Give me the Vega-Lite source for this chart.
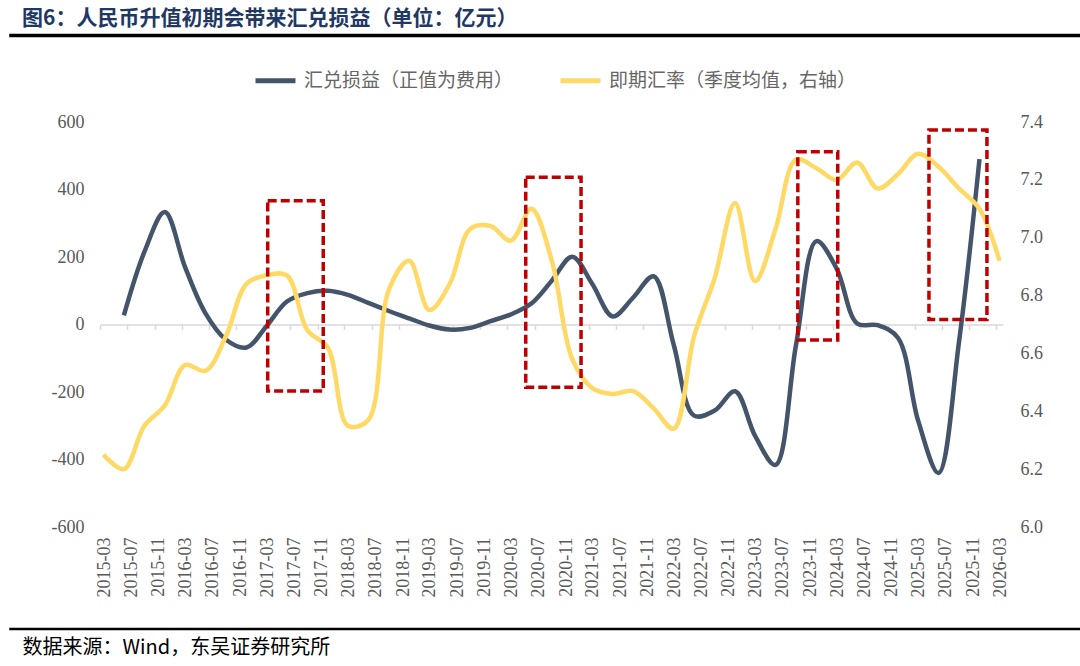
{
  "$schema": "https://vega.github.io/schema/vega-lite/v6.json",
  "width": 903,
  "height": 405,
  "autosize": {"type": "none"},
  "padding": {"left": 100, "top": 122, "right": 77, "bottom": 139},
  "background": "white",
  "config": {"view": {"stroke": null}, "axis": {"grid": false}},
  "title": {
    "text": "图6：人民币升值初期会带来汇兑损益（单位：亿元）",
    "anchor": "start",
    "frame": "group",
    "dx": -78,
    "font": "Noto Sans CJK SC",
    "fontSize": 21,
    "fontWeight": "bold",
    "color": "#1f3864",
    "offset": 5
  },
  "datasets": {
    "fx_pl": [
      {"quarter": "2015-06", "value": 27},
      {"quarter": "2015-09", "value": 215},
      {"quarter": "2015-12", "value": 333},
      {"quarter": "2016-03", "value": 170},
      {"quarter": "2016-06", "value": 33},
      {"quarter": "2016-09", "value": -45},
      {"quarter": "2016-12", "value": -68},
      {"quarter": "2017-03", "value": -5},
      {"quarter": "2017-06", "value": 68},
      {"quarter": "2017-09", "value": 93},
      {"quarter": "2017-12", "value": 100},
      {"quarter": "2018-03", "value": 88},
      {"quarter": "2018-06", "value": 64},
      {"quarter": "2018-09", "value": 40},
      {"quarter": "2018-12", "value": 18},
      {"quarter": "2019-03", "value": -3},
      {"quarter": "2019-06", "value": -15},
      {"quarter": "2019-09", "value": -10},
      {"quarter": "2019-12", "value": 10},
      {"quarter": "2020-03", "value": 30},
      {"quarter": "2020-06", "value": 62},
      {"quarter": "2020-09", "value": 130},
      {"quarter": "2020-12", "value": 201},
      {"quarter": "2021-03", "value": 120},
      {"quarter": "2021-06", "value": 24},
      {"quarter": "2021-09", "value": 80},
      {"quarter": "2021-12", "value": 143},
      {"quarter": "2022-03", "value": -60},
      {"quarter": "2022-06", "value": -270},
      {"quarter": "2022-09", "value": -255},
      {"quarter": "2022-12", "value": -198},
      {"quarter": "2023-03", "value": -330},
      {"quarter": "2023-06", "value": -416},
      {"quarter": "2023-09", "value": -60},
      {"quarter": "2023-12", "value": 247},
      {"quarter": "2024-03", "value": 165},
      {"quarter": "2024-06", "value": 3},
      {"quarter": "2024-09", "value": -2},
      {"quarter": "2024-12", "value": -40},
      {"quarter": "2025-03", "value": -285},
      {"quarter": "2025-06", "value": -440},
      {"quarter": "2025-09", "value": -50},
      {"quarter": "2025-12", "value": 490}
    ],
    "spot": [
      {"quarter": "2015-03", "rate": 6.25},
      {"quarter": "2015-06", "rate": 6.2},
      {"quarter": "2015-09", "rate": 6.35},
      {"quarter": "2015-12", "rate": 6.42},
      {"quarter": "2016-03", "rate": 6.56},
      {"quarter": "2016-06", "rate": 6.54},
      {"quarter": "2016-09", "rate": 6.66},
      {"quarter": "2016-12", "rate": 6.84},
      {"quarter": "2017-03", "rate": 6.87},
      {"quarter": "2017-06", "rate": 6.87},
      {"quarter": "2017-09", "rate": 6.68},
      {"quarter": "2017-12", "rate": 6.62},
      {"quarter": "2018-03", "rate": 6.35},
      {"quarter": "2018-06", "rate": 6.37},
      {"quarter": "2018-09", "rate": 6.82},
      {"quarter": "2018-12", "rate": 6.92},
      {"quarter": "2019-03", "rate": 6.75},
      {"quarter": "2019-06", "rate": 6.84},
      {"quarter": "2019-09", "rate": 7.03},
      {"quarter": "2019-12", "rate": 7.04},
      {"quarter": "2020-03", "rate": 6.99},
      {"quarter": "2020-06", "rate": 7.1},
      {"quarter": "2020-09", "rate": 6.92},
      {"quarter": "2020-12", "rate": 6.58},
      {"quarter": "2021-03", "rate": 6.48},
      {"quarter": "2021-06", "rate": 6.46},
      {"quarter": "2021-09", "rate": 6.47},
      {"quarter": "2021-12", "rate": 6.41},
      {"quarter": "2022-03", "rate": 6.34},
      {"quarter": "2022-06", "rate": 6.66},
      {"quarter": "2022-09", "rate": 6.86},
      {"quarter": "2022-12", "rate": 7.12},
      {"quarter": "2023-03", "rate": 6.85},
      {"quarter": "2023-06", "rate": 7.03},
      {"quarter": "2023-09", "rate": 7.27},
      {"quarter": "2023-12", "rate": 7.24},
      {"quarter": "2024-03", "rate": 7.2},
      {"quarter": "2024-06", "rate": 7.26},
      {"quarter": "2024-09", "rate": 7.17},
      {"quarter": "2024-12", "rate": 7.22},
      {"quarter": "2025-03", "rate": 7.29},
      {"quarter": "2025-06", "rate": 7.245},
      {"quarter": "2025-09", "rate": 7.17},
      {"quarter": "2025-12", "rate": 7.1},
      {"quarter": "2026-03", "rate": 6.92}
    ],
    "boxes": [
      {"start": "2017-03-22", "end": "2017-11-26", "low": -197, "high": 367},
      {"start": "2020-05-22", "end": "2021-01-25", "low": -186, "high": 436},
      {"start": "2023-09-24", "end": "2024-03-21", "low": -46, "high": 512},
      {"start": "2025-05-04", "end": "2026-01-19", "low": 15, "high": 576}
    ]
  },
  "layer": [
    {
      "data": {"name": "fx_pl"},
      "mark": {"type": "line", "interpolate": "catmull-rom", "strokeWidth": 4.5, "clip": false},
      "encoding": {
        "x": {
          "field": "quarter", "timeUnit": "utcyearmonth", "type": "temporal", "bandPosition": 0.5,
          "scale": {"type": "utc", "domain": [{"year": 2015, "month": 3, "date": 1, "utc": true}, {"year": 2026, "month": 4, "date": 1, "utc": true}]},
          "axis": {
            "orient": "bottom", "offset": -202.5, "title": null, "labels": false,
            "domain": true, "domainColor": "#d9d9d9", "domainWidth": 1.5,
            "ticks": true, "tickColor": "#d9d9d9", "tickWidth": 1.5, "tickSize": 5,
            "values": [
              {"year": 2015, "month": 3, "utc": true}, {"year": 2015, "month": 7, "utc": true}, {"year": 2015, "month": 11, "utc": true},
              {"year": 2016, "month": 3, "utc": true}, {"year": 2016, "month": 7, "utc": true}, {"year": 2016, "month": 11, "utc": true},
              {"year": 2017, "month": 3, "utc": true}, {"year": 2017, "month": 7, "utc": true}, {"year": 2017, "month": 11, "utc": true},
              {"year": 2018, "month": 3, "utc": true}, {"year": 2018, "month": 7, "utc": true}, {"year": 2018, "month": 11, "utc": true},
              {"year": 2019, "month": 3, "utc": true}, {"year": 2019, "month": 7, "utc": true}, {"year": 2019, "month": 11, "utc": true},
              {"year": 2020, "month": 3, "utc": true}, {"year": 2020, "month": 7, "utc": true}, {"year": 2020, "month": 11, "utc": true},
              {"year": 2021, "month": 3, "utc": true}, {"year": 2021, "month": 7, "utc": true}, {"year": 2021, "month": 11, "utc": true},
              {"year": 2022, "month": 3, "utc": true}, {"year": 2022, "month": 7, "utc": true}, {"year": 2022, "month": 11, "utc": true},
              {"year": 2023, "month": 3, "utc": true}, {"year": 2023, "month": 7, "utc": true}, {"year": 2023, "month": 11, "utc": true},
              {"year": 2024, "month": 3, "utc": true}, {"year": 2024, "month": 7, "utc": true}, {"year": 2024, "month": 11, "utc": true},
              {"year": 2025, "month": 3, "utc": true}, {"year": 2025, "month": 7, "utc": true}, {"year": 2025, "month": 11, "utc": true},
              {"year": 2026, "month": 3, "utc": true}
            ]
          }
        },
        "y": {
          "field": "value", "type": "quantitative",
          "scale": {"domain": [-600, 600], "nice": false, "zero": false},
          "axis": {
            "orient": "left", "title": null, "domain": false, "ticks": false, "grid": false,
            "values": [-600, -400, -200, 0, 200, 400, 600],
            "labelExpr": "replace(datum.label, '−', '-')",
            "labelFont": "Liberation Serif", "labelFontSize": 18, "labelColor": "#595959", "labelPadding": 16
          }
        },
        "color": {
          "datum": "汇兑损益（正值为费用）",
          "scale": {"domain": ["汇兑损益（正值为费用）", "即期汇率（季度均值，右轴）"], "range": ["#44546a", "#ffd966"]},
          "legend": {
            "orient": "none", "legendX": 153, "legendY": -64, "direction": "horizontal", "title": null,
            "symbolType": "stroke", "symbolSize": 1600, "symbolStrokeWidth": 5,
            "labelFont": "Noto Sans CJK SC", "labelFontSize": 19, "labelColor": "#666666",
            "columnPadding": 36, "labelOffset": 6, "labelLimit": 400
          }
        }
      }
    },
    {
      "data": {"name": "spot"},
      "mark": {"type": "line", "interpolate": "catmull-rom", "strokeWidth": 4.5, "clip": false},
      "encoding": {
        "x": {
          "field": "quarter", "timeUnit": "utcyearmonth", "type": "temporal", "bandPosition": 0.5,
          "scale": {"type": "utc", "domain": [{"year": 2015, "month": 3, "date": 1, "utc": true}, {"year": 2026, "month": 4, "date": 1, "utc": true}]},
          "axis": {
            "orient": "bottom", "domain": false, "ticks": false,
            "format": "%Y-%m", "labelAngle": -90, "labelOffset": 4, "labelPadding": 10,
            "labelFont": "Liberation Serif", "labelFontSize": 18, "labelColor": "#595959",
            "title": "数据来源：Wind，东吴证券研究所",
            "titleX": -78, "titleY": 120, "titleAlign": "left", "titleBaseline": "middle", "titleAnchor": "start",
            "titleFont": "Noto Sans CJK SC", "titleFontSize": 20, "titleFontWeight": "normal", "titleColor": "#000000",
            "values": [
              {"year": 2015, "month": 3, "utc": true}, {"year": 2015, "month": 7, "utc": true}, {"year": 2015, "month": 11, "utc": true},
              {"year": 2016, "month": 3, "utc": true}, {"year": 2016, "month": 7, "utc": true}, {"year": 2016, "month": 11, "utc": true},
              {"year": 2017, "month": 3, "utc": true}, {"year": 2017, "month": 7, "utc": true}, {"year": 2017, "month": 11, "utc": true},
              {"year": 2018, "month": 3, "utc": true}, {"year": 2018, "month": 7, "utc": true}, {"year": 2018, "month": 11, "utc": true},
              {"year": 2019, "month": 3, "utc": true}, {"year": 2019, "month": 7, "utc": true}, {"year": 2019, "month": 11, "utc": true},
              {"year": 2020, "month": 3, "utc": true}, {"year": 2020, "month": 7, "utc": true}, {"year": 2020, "month": 11, "utc": true},
              {"year": 2021, "month": 3, "utc": true}, {"year": 2021, "month": 7, "utc": true}, {"year": 2021, "month": 11, "utc": true},
              {"year": 2022, "month": 3, "utc": true}, {"year": 2022, "month": 7, "utc": true}, {"year": 2022, "month": 11, "utc": true},
              {"year": 2023, "month": 3, "utc": true}, {"year": 2023, "month": 7, "utc": true}, {"year": 2023, "month": 11, "utc": true},
              {"year": 2024, "month": 3, "utc": true}, {"year": 2024, "month": 7, "utc": true}, {"year": 2024, "month": 11, "utc": true},
              {"year": 2025, "month": 3, "utc": true}, {"year": 2025, "month": 7, "utc": true}, {"year": 2025, "month": 11, "utc": true},
              {"year": 2026, "month": 3, "utc": true}
            ]
          }
        },
        "y": {
          "field": "rate", "type": "quantitative",
          "scale": {"domain": [6.0, 7.4], "nice": false, "zero": false},
          "axis": {
            "orient": "right", "title": null, "domain": false, "ticks": false, "grid": false,
            "values": [6.0, 6.2, 6.4, 6.6, 6.8, 7.0, 7.2, 7.4], "format": ".1f",
            "labelFont": "Liberation Serif", "labelFontSize": 18, "labelColor": "#595959", "labelPadding": 17
          }
        },
        "color": {"datum": "即期汇率（季度均值，右轴）"}
      }
    },
    {
      "layer": [
        {
          "data": {"name": "boxes"},
          "mark": {"type": "rect", "fillOpacity": 0, "stroke": "#c00000", "strokeWidth": 3.5, "strokeDash": [9, 4], "clip": false},
          "encoding": {
            "x": {"field": "start", "type": "temporal", "scale": {"type": "utc", "domain": [{"year": 2015, "month": 3, "date": 1, "utc": true}, {"year": 2026, "month": 4, "date": 1, "utc": true}]}, "axis": null},
            "x2": {"field": "end"},
            "y": {"field": "high", "type": "quantitative", "scale": {"domain": [-600, 600], "nice": false, "zero": false}, "axis": null},
            "y2": {"field": "low"}
          }
        },
        {
          "data": {"values": [{}]},
          "mark": {"type": "rule", "color": "#000000", "strokeWidth": 3.5, "clip": false},
          "encoding": {
            "x": {"datum": {"year": 2014, "month": 1, "date": 18, "utc": true}, "type": "temporal", "axis": null},
            "x2": {"datum": {"year": 2027, "month": 6, "date": 1, "utc": true}},
            "y": {"datum": 856, "type": "quantitative", "axis": null}
          }
        },
        {
          "data": {"values": [{}]},
          "mark": {"type": "rule", "color": "#000000", "strokeWidth": 2.5, "clip": false},
          "encoding": {
            "x": {"datum": {"year": 2014, "month": 1, "date": 18, "utc": true}, "type": "temporal", "axis": null},
            "x2": {"datum": {"year": 2027, "month": 6, "date": 1, "utc": true}},
            "y": {"datum": -902, "type": "quantitative", "axis": null}
          }
        }
      ]
    }
  ],
  "resolve": {"scale": {"y": "independent"}, "axis": {"x": "independent", "y": "independent"}}
}
